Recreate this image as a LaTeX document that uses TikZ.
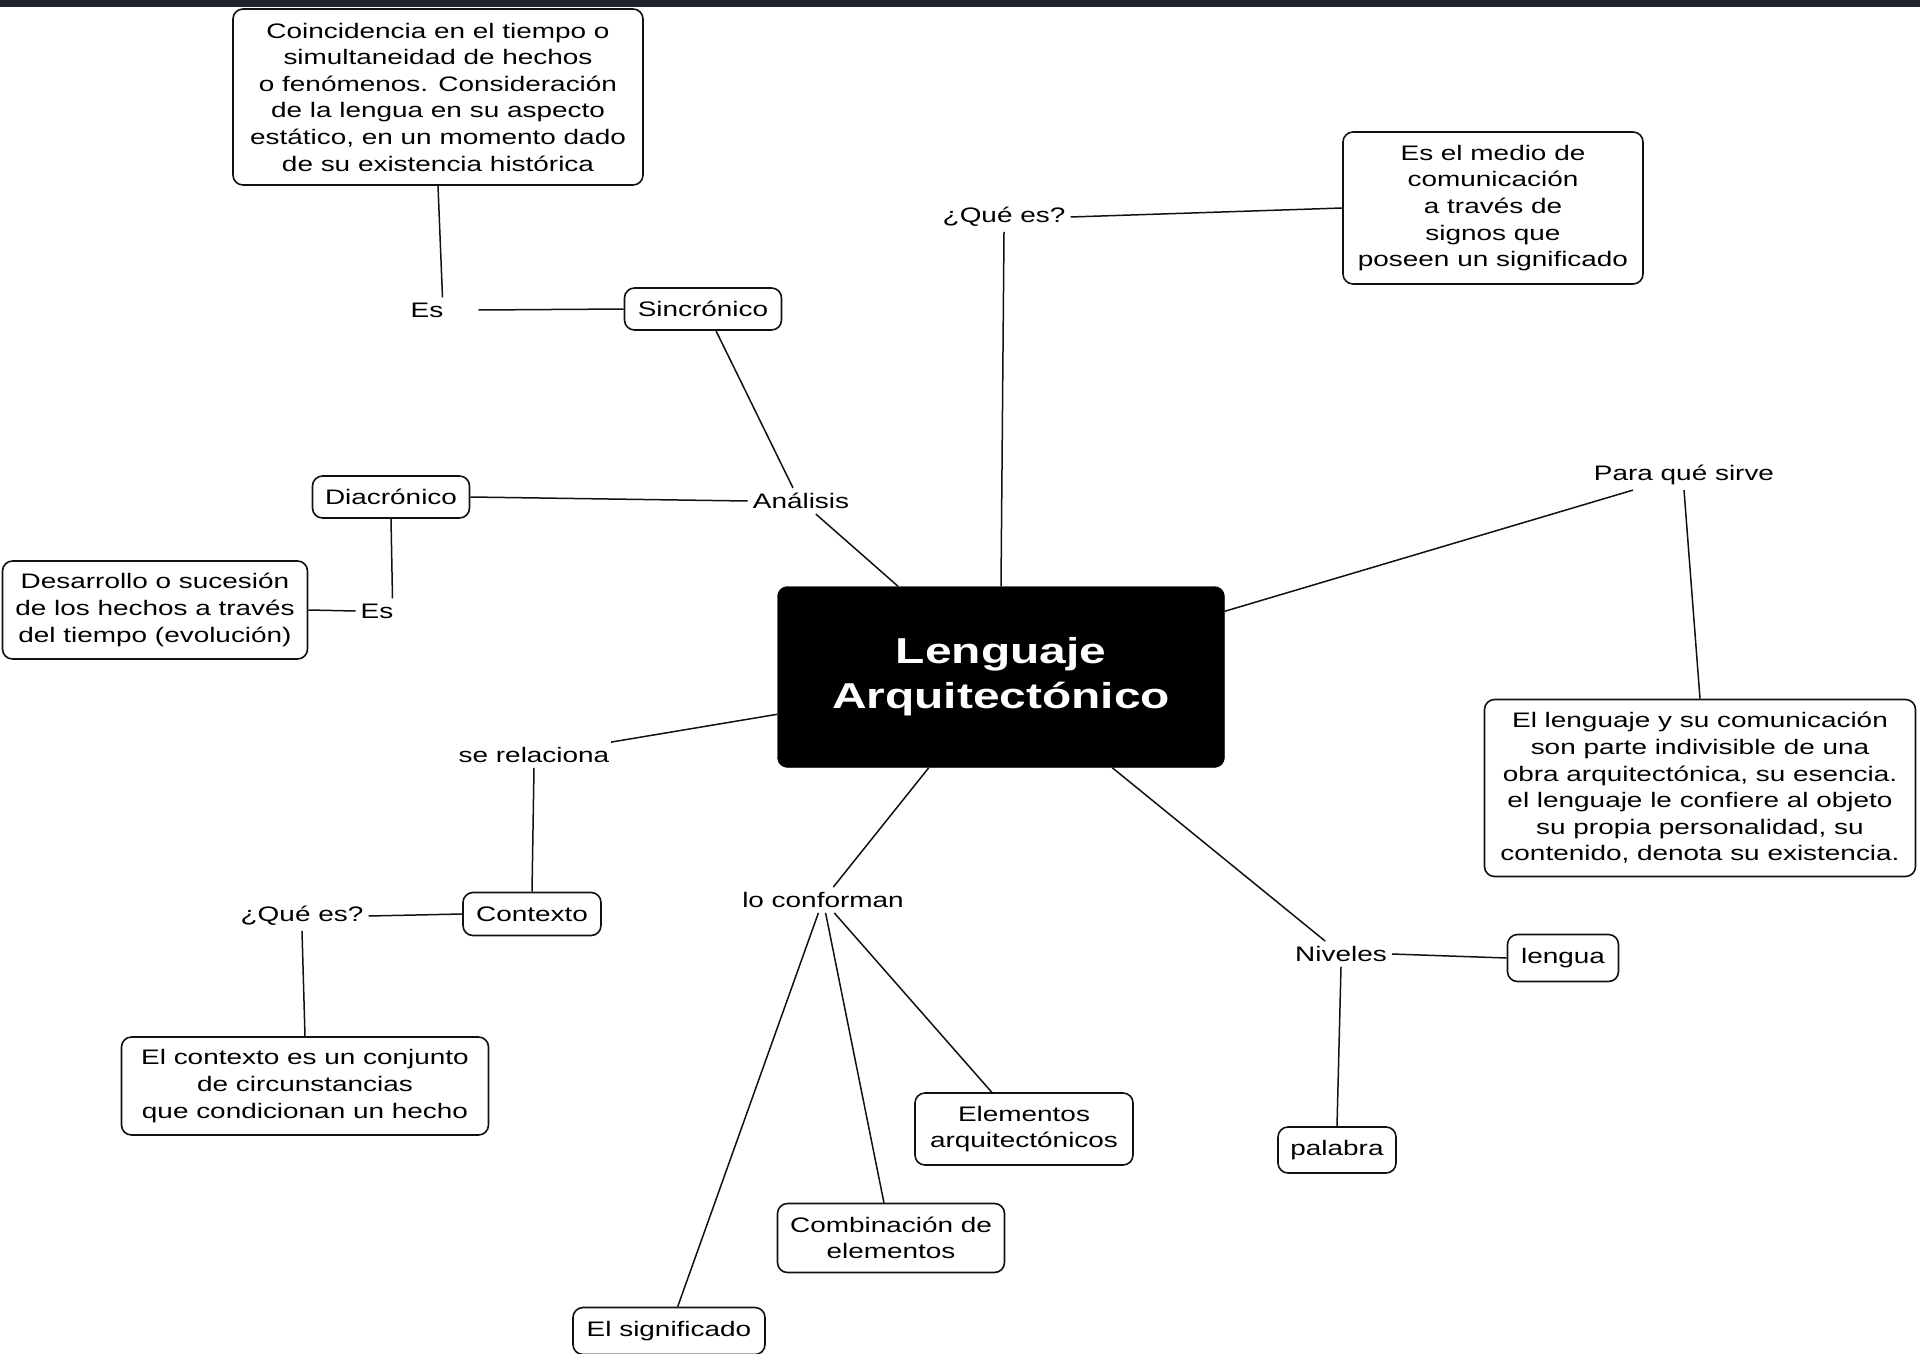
\documentclass[tikz,border=0pt]{standalone}
\usepackage{fontspec}
\setmainfont{Liberation Sans}[FakeStretch=1.33]
\definecolor{topbar}{HTML}{1E252D}
\definecolor{ink}{HTML}{111111}
\begin{document}
\begin{tikzpicture}[x=1pt,y=-1pt,
  txt/.style={font=\fontsize{21}{26.6}\selectfont},
  box/.style={txt, draw=ink, line width=1.6pt, rounded corners=10pt, align=center, inner sep=0pt},
  lbl/.style={txt, inner sep=5pt},
  conn/.style={draw=ink, line width=1.5pt}]
\useasboundingbox (0,0) rectangle (1920,1354);
\fill[white] (0,0) rectangle (1920,1354);
\fill[topbar] (0,0) rectangle (1920,7);

% boxes
\node[box, minimum width=410pt, minimum height=176pt] (coinc) at (438,97)
  {Coincidencia en el tiempo o\\simultaneidad de hechos\\o fenómenos. Consideración\\de la lengua en su aspecto\\estático, en un momento dado\\de su existencia histórica};
\node[box, minimum width=157pt, minimum height=42pt] (sinc) at (703,309) {Sincrónico};
\node[box, minimum width=300pt, minimum height=152pt] (medio) at (1493,208)
  {Es el medio de\\comunicación\\a través de\\signos que\\poseen un significado};
\node[box, minimum width=157pt, minimum height=42pt] (diac) at (391,497) {Diacrónico};
\node[box, minimum width=305pt, minimum height=98pt] (desarr) at (155,610)
  {Desarrollo o sucesión\\de los hechos a través\\del tiempo (evolución)};
\node[draw=black, fill=black, rounded corners=10pt, minimum width=447pt, minimum height=181pt,
  text=white, align=center, inner sep=0pt, font=\bfseries\fontsize{36}{45}\selectfont] (central) at (1001,677)
  {Lenguaje\\Arquitectónico};
\node[box, minimum width=431pt, minimum height=177pt] (lbox) at (1700,788)
  {El lenguaje y su comunicación\\son parte indivisible de una\\obra arquitectónica, su esencia.\\el lenguaje le confiere al objeto\\su propia personalidad, su\\contenido, denota su existencia.};
\node[box, minimum width=138pt, minimum height=43pt] (contexto) at (532,914) {Contexto};
\node[box, minimum width=367pt, minimum height=98pt] (contbox) at (305,1086)
  {El contexto es un conjunto\\de circunstancias\\que condicionan un hecho};
\node[box, minimum width=218pt, minimum height=72pt] (elem) at (1024,1129)
  {Elementos\\arquitectónicos};
\node[box, minimum width=227pt, minimum height=69pt] (comb) at (891,1238)
  {Combinación de\\elementos};
\node[box, minimum width=192pt, minimum height=47pt] (signif) at (669,1331) {El significado};
\node[box, minimum width=111pt, minimum height=47pt] (lengua) at (1563,958) {lengua};
\node[box, minimum width=118pt, minimum height=46pt] (palabra) at (1337,1150) {palabra};

% labels
\node[lbl] (es1) at (427,310) {Es};
\node[lbl] (que1) at (1004,217) {¿Qué es?};
\node[lbl] (analisis) at (801,501) {Análisis};
\node[lbl] (es2) at (377,611) {Es};
\node[lbl] (para) at (1684,475) {Para qué sirve};
\node[lbl] (serel) at (534,755) {se relaciona};
\node[lbl] (que2) at (302,916) {¿Qué es?};
\node[lbl] (locon) at (823,900) {lo conforman};
\node[lbl] (niveles) at (1341,954) {Niveles};

% connectors
\draw[conn] (coinc.south) -- ([xshift=-6pt]es1.north east);
\draw[conn] ([xshift=30pt]es1.east) -- (sinc.west);
\draw[conn] ([xshift=13pt]sinc.south) -- ([xshift=-8pt]analisis.north);
\draw[conn] (analisis) -- (central);
\draw[conn] (diac.east) -- (analisis.west);
\draw[conn] (diac.south) -- ([xshift=-6pt]es2.north east);
\draw[conn] (es2.west) -- (desarr.east);
\draw[conn] (que1.south) -- (central.north);
\draw[conn] (que1.east) -- (medio.west);
\draw[conn] (central) -- (para);
\draw[conn] (para.south) -- (lbox.north);
\draw[conn] (serel) -- (central);
\draw[conn] (serel.south) -- (contexto.north);
\draw[conn] (contexto.west) -- (que2.east);
\draw[conn] (que2.south) -- (contbox.north);
\draw[conn] (central) -- (locon);
\draw[conn] (locon) -- (elem);
\draw[conn] (locon) -- (comb);
\draw[conn] (locon) -- (signif);
\draw[conn] (central) -- (niveles);
\draw[conn] (niveles.east) -- (lengua.west);
\draw[conn] (niveles.south) -- (palabra.north);
\end{tikzpicture}
\end{document}
